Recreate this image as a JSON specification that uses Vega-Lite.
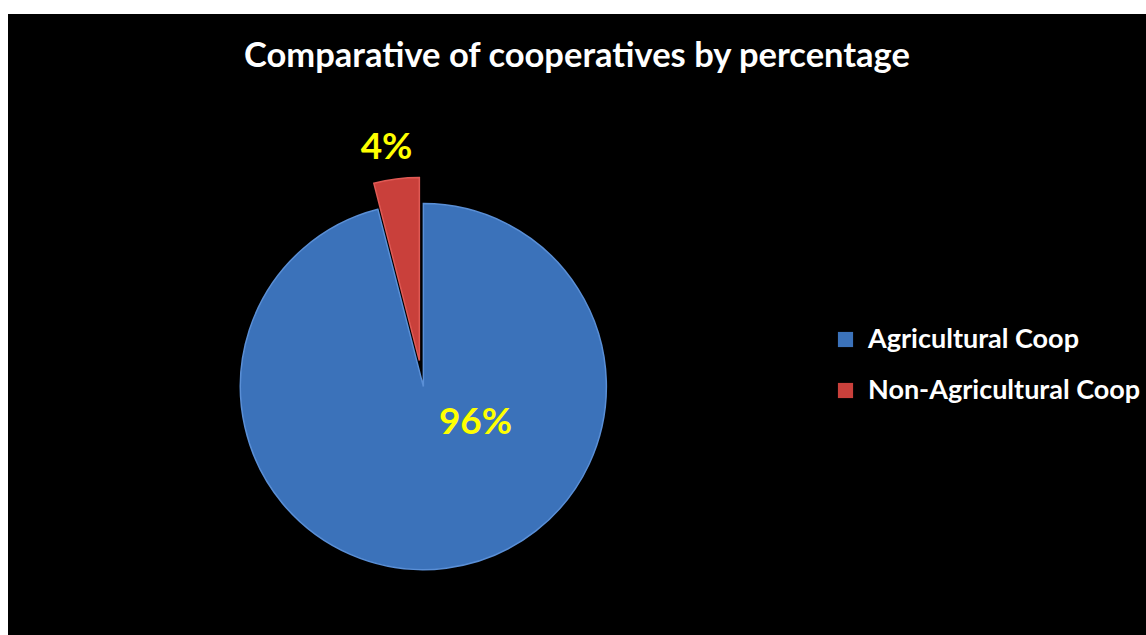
{
  "$schema": "https://vega.github.io/schema/vega-lite/v6.json",
  "autosize": {"type": "fit", "contains": "padding"},
  "width": 1146,
  "height": 635,
  "padding": {"left": 8, "top": 14, "right": 0, "bottom": 0},
  "background": "white",
  "view": {"fill": "black", "stroke": null},
  "title": {
    "text": "Comparative of cooperatives by percentage",
    "font": "Lato",
    "fontSize": 34.5,
    "fontWeight": "bold",
    "color": "white",
    "anchor": "middle",
    "frame": "group",
    "baseline": "top",
    "offset": -60
  },
  "data": {
    "values": [
      {"category": "Agricultural Coop", "share": 0.96},
      {"category": "Non-Agricultural Coop", "share": 0.04}
    ]
  },
  "transform": [
    {"stack": "share", "groupby": [], "sort": [{"field": "category", "order": "ascending"}], "as": ["s0", "s1"]}
  ],
  "layer": [
    {
      "transform": [{"filter": "datum.category == 'Agricultural Coop'"}],
      "mark": {"type": "arc", "x": {"expr": "width*0.365"}, "y": {"expr": "height*0.6"}, "outerRadius": 183, "stroke": "#5A8FD6", "strokeWidth": 1.5},
      "encoding": {
        "theta": {"field": "s0", "type": "quantitative", "scale": {"domain": [0, 1]}},
        "theta2": {"field": "s1"},
        "color": {
          "field": "category",
          "type": "nominal",
          "scale": {"domain": ["Agricultural Coop", "Non-Agricultural Coop"], "range": ["#3B72BA", "#C9403B"]},
          "legend": {
            "orient": "none",
            "legendX": 824,
            "legendY": 312,
            "title": null,
            "symbolType": "square",
            "symbolSize": 230,
            "symbolStrokeWidth": 0,
            "labelFont": "Lato",
            "labelFontSize": 27,
            "labelFontWeight": "bold",
            "labelColor": "white",
            "labelLimit": 400,
            "labelOffset": 9,
            "rowPadding": 23
          }
        }
      }
    },
    {
      "transform": [{"filter": "datum.category == 'Non-Agricultural Coop'"}],
      "mark": {"type": "arc", "x": {"expr": "width*0.365 - 4"}, "y": {"expr": "height*0.6 - 26"}, "outerRadius": 183, "stroke": "#E05A55", "strokeWidth": 1.5},
      "encoding": {
        "theta": {"field": "s0", "type": "quantitative", "scale": {"domain": [0, 1]}},
        "theta2": {"field": "s1"},
        "color": {"field": "category", "type": "nominal"}
      }
    },
    {
      "mark": {"type": "text", "x": {"expr": "width*0.365 + 44"}, "y": {"expr": "height*0.6 - 28"}, "radius": 65, "font": "Lato", "fontSize": 37, "fontWeight": "bold"},
      "encoding": {
        "theta": {"field": "share", "type": "quantitative", "stack": true, "sort": "ascending"},
        "order": {"field": "category", "sort": "ascending"},
        "text": {"field": "share", "type": "quantitative", "format": ".0%"},
        "fill": {"condition": {"test": "datum.category == 'Agricultural Coop'", "value": "#FFFF00"}, "value": "transparent"}
      }
    },
    {
      "mark": {"type": "text", "x": {"expr": "width*0.365 - 10"}, "y": {"expr": "height*0.6 - 26"}, "radius": 214, "font": "Lato", "fontSize": 37, "fontWeight": "bold"},
      "encoding": {
        "theta": {"field": "share", "type": "quantitative", "stack": true},
        "order": {"field": "category", "sort": "ascending"},
        "text": {"field": "share", "type": "quantitative", "format": ".0%"},
        "fill": {"condition": {"test": "datum.category == 'Non-Agricultural Coop'", "value": "#FFFF00"}, "value": "transparent"}
      }
    }
  ]
}
